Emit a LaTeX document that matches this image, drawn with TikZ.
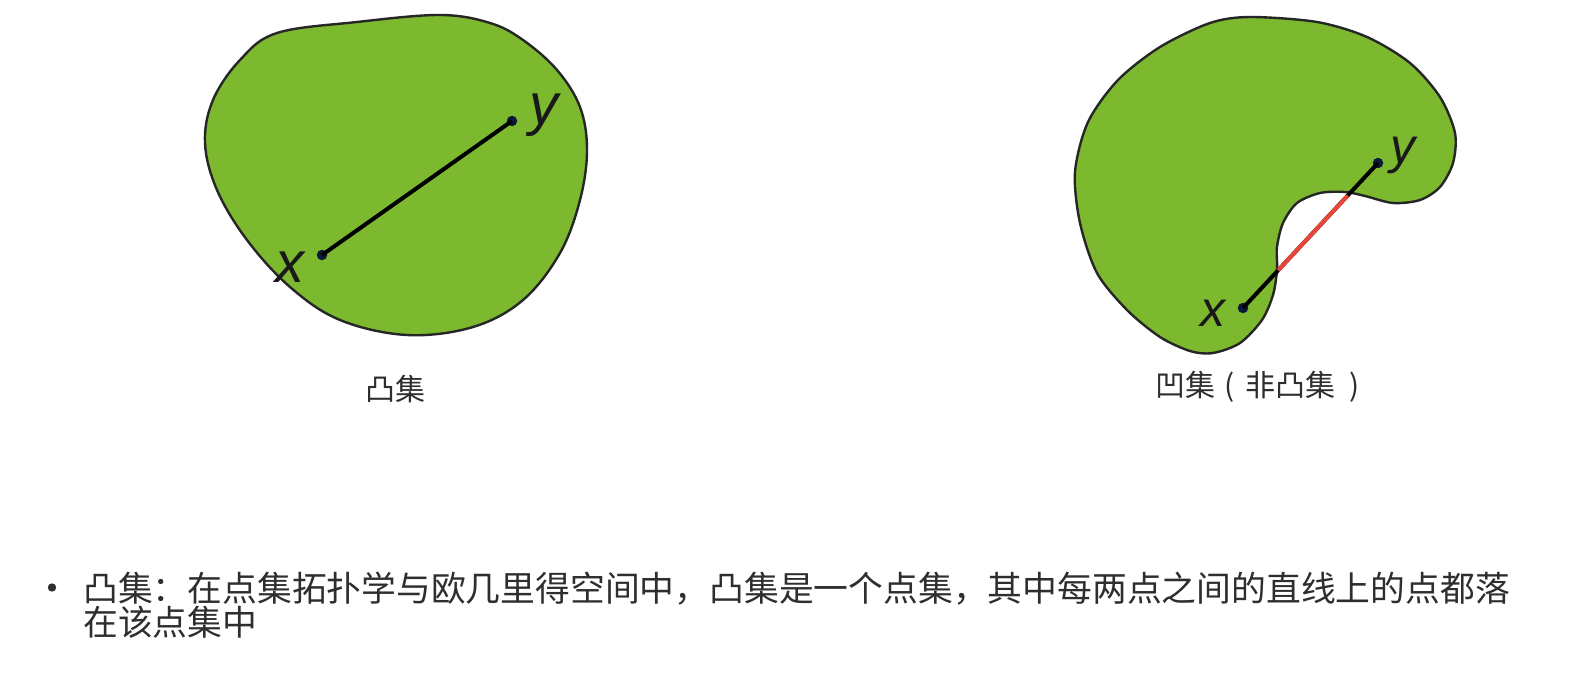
\documentclass[tikz,border=0pt]{standalone}
\usepackage{fontspec}
\setmainfont{Liberation Sans}
\newfontfamily\cjk{Noto Sans CJK SC}
\usetikzlibrary{calc}
\definecolor{setgreen}{HTML}{7CB92F}
\definecolor{dotblue}{HTML}{0B1A3A}
\definecolor{txtgray}{HTML}{2E2E2E}
\definecolor{redline}{HTML}{E8463A}
\begin{document}
\begin{tikzpicture}[x=1pt,y=-1pt,
  region/.style={fill=setgreen,draw=black!85,line width=2.4pt},
  ptdot/.style={circle,fill=dotblue,inner sep=0pt,minimum size=10.5pt},
  seg/.style={line width=4pt,black},
  lblbig/.style={inner sep=0pt,font=\fontsize{58}{60}\selectfont\itshape,text=black!90},
  lblsmall/.style={inner sep=0pt,font=\fontsize{50}{52}\selectfont\itshape,text=black!90},
  caption/.style={inner sep=0pt,font=\cjk\fontsize{30}{34}\selectfont,text=txtgray},
  bodytxt/.style={inner sep=0pt,anchor=west,font=\cjk\fontsize{34.8}{38}\selectfont,text=txtgray}]
\useasboundingbox (0,0) rectangle (1583,696);
\fill[white] (0,0) rectangle (1583,696);
% convex set
\draw[region] plot[smooth cycle,tension=0.6] coordinates {
 (277,33) (357,22) (440,15) (490,23) (523,40) (557,70) (580,107) (587,150)
 (580,200) (560,253) (523,300) (473,327) (407,335) (340,320) (290,287)
 (247,240) (217,190) (205,143) (213,100) (240,60) };
\node[ptdot] (x1) at (322,255) {};
\node[ptdot] (y1) at (512,121) {};
\draw[seg] (x1.center) -- (y1.center);
\node[lblbig] (lx1) at (290,267) {x};
\node[lblbig] (ly1) at (544,115) {y};
\node[caption] (c1) at (395,389) {凸集};
% non-convex set
\draw[region] plot[smooth cycle,tension=0.5] coordinates {
 (1250,17) (1317,22) (1367,37) (1410,63) (1440,97) (1455,133) (1453,163)
 (1440,187) (1420,200) (1393,203) (1365,196) (1345,192) (1320,193)
 (1297,203) (1283,223) (1277,247) (1277,270) (1273,295) (1262,320)
 (1240,343) (1213,353) (1190,351) (1160,337) (1127,310) (1097,273)
 (1080,223) (1075,172) (1088,122) (1118,80) (1160,47) (1210,23) };
\node[ptdot] (x2) at (1243,308) {};
\node[ptdot] (y2) at (1378,163) {};
\draw[seg] (x2.center) -- (y2.center);
\coordinate (r1) at ($(x2.center)!0.26!(y2.center)$);
\coordinate (r2) at ($(x2.center)!0.775!(y2.center)$);
\draw[line width=4pt,redline] (r1) -- (r2);
\node[lblsmall] (lx2) at (1213,313) {x};
\node[lblsmall] (ly2) at (1403,155) {y};
\node[caption] (c2) at (1260,387) {凹集\makebox[1em][c]{(}非凸集\makebox[1em][r]{)\hspace{0.17em}}};
% description
\fill[txtgray] (52,587.5) circle (4.2pt);
\node[bodytxt] (t1) at (83,589) {凸集：在点集拓扑学与欧几里得空间中，凸集是一个点集，其中每两点之间的直线上的点都落};
\node[bodytxt] (t2) at (83,622) {在该点集中};
\end{tikzpicture}
\end{document}
